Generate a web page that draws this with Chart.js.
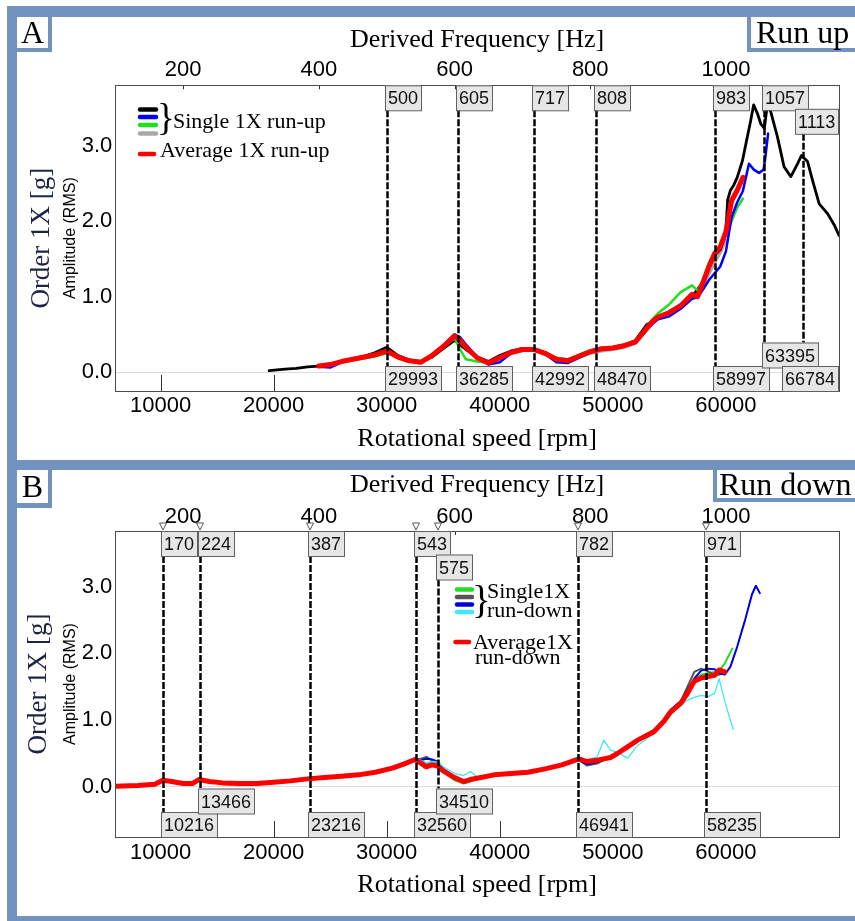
<!DOCTYPE html>
<html>
<head>
<meta charset="utf-8">
<title>Order 1X run-up / run-down</title>
<script src="https://cdn.jsdelivr.net/npm/chart.js@4.4.1/dist/chart.umd.min.js"></script>
<style>
  html, body { margin: 0; padding: 0; background: #fff; }
  #page { position: relative; width: 855px; height: 921px; overflow: hidden; background: #fff; }
  .band { position: absolute; background: #7293bf; }
  .holder { position: absolute; left: 17px; }
  .holder canvas { display: block; }
  .tag { position: absolute; box-sizing: border-box; background: #fff; border: 0 solid #7293bf;
         font-family: "Liberation Serif", "Times New Roman", serif; font-size: 32px; color: #000; white-space: nowrap; }
</style>
</head>
<body>
<div id="page">
  <div class="band" style="left:7px; top:6px; width:848px; height:11px;"></div>
  <div class="band" style="left:7px; top:6px; width:10px; height:915px;"></div>
  <div class="band" style="left:7px; top:460px; width:848px; height:10px;"></div>
  <div class="band" style="left:7px; top:916px; width:848px; height:5px;"></div>

  <div class="holder" style="top:17px;"><canvas id="chartA" width="838" height="443"></canvas></div>
  <div class="holder" style="top:470px;"><canvas id="chartB" width="838" height="446"></canvas></div>

  <div class="tag" style="left:17px; top:17px; width:35px; height:35px; border-right-width:4px; border-bottom-width:4px; line-height:31px; text-align:center;">A</div>
  <div class="tag" style="left:747px; top:17px; width:108px; height:35px; border-left-width:4px; border-bottom-width:4px; line-height:31px; padding-left:5px;">Run up</div>
  <div class="tag" style="left:17px; top:470px; width:35px; height:38px; border-right-width:4px; border-bottom-width:5px; line-height:33px; text-align:center;">B</div>
  <div class="tag" style="left:713px; top:470px; width:142px; height:32px; border-left-width:4px; border-bottom-width:4px; line-height:28px; padding-left:2px;">Run down</div>
</div>

<script>
const SANS = '"Liberation Sans", Arial, sans-serif';
const SERIF = '"Liberation Serif", "Times New Roman", serif';

// axis ticks (rpm below, derived frequency in Hz = rpm / 60 on top)
const rpmTicks = [10000, 20000, 30000, 40000, 50000, 60000];
const hzTicks = [200, 400, 600, 800, 1000];
const ampTicks = [0, 1, 2, 3];

// ---------- panel A : run up ----------
const rpmA = [24000, 25000, 26000, 27000, 28000, 29000, 30000, 31000, 32000, 33000,
              34000, 35000, 36000, 36500, 37000, 38000, 39000, 40000, 41000, 42000,
              43000, 44000, 45000, 46000, 47000, 48000, 49000, 50000, 51000, 52000,
              53000, 53500, 54000, 55000, 56000, 57000, 57500, 58000, 58500, 59000,
              59500, 60000, 60500, 61000, 61500];
const avgUpA = [0.08, 0.10, 0.14, 0.17, 0.20, 0.23, 0.28, 0.20, 0.15, 0.13,
                0.22, 0.34, 0.48, 0.42, 0.33, 0.19, 0.12, 0.19, 0.26, 0.30,
                0.30, 0.25, 0.17, 0.15, 0.21, 0.27, 0.31, 0.32, 0.35, 0.40,
                0.58, 0.67, 0.73, 0.79, 0.88, 1.03, 1.00, 1.20, 1.40, 1.57,
                1.66, 1.86, 2.27, 2.41, 2.58];
const rpmBlueTailA = [61840, 62040, 62490, 62930, 63320, 63460, 63730];
const blueUpA = [0.07, 0.06, 0.13, 0.17, 0.20, 0.24, 0.29, 0.21, 0.15, 0.13,
                 0.22, 0.35, 0.50, 0.46, 0.37, 0.20, 0.10, 0.13, 0.25, 0.29,
                 0.30, 0.24, 0.13, 0.12, 0.19, 0.26, 0.30, 0.32, 0.35, 0.39,
                 0.56, 0.64, 0.70, 0.74, 0.84, 0.97, 0.99, 1.10, 1.22, 1.31,
                 1.40, 1.60, 2.05, 2.25, 2.40,
                 2.63, 2.76, 2.68, 2.64, 2.68, 2.81, 3.16];
const greenUpA = [0.07, 0.11, 0.14, 0.16, 0.18, 0.21, 0.25, 0.21, 0.16, 0.14,
                  0.21, 0.33, 0.45, 0.30, 0.17, 0.14, 0.12, 0.20, 0.25, 0.28,
                  0.30, 0.26, 0.19, 0.17, 0.23, 0.29, 0.31, 0.33, 0.36, 0.41,
                  0.60, 0.70, 0.78, 0.90, 1.06, 1.15, 1.08, 1.22, 1.45, 1.58,
                  1.66, 1.80, 2.00, 2.18, 2.30];
const greyUpA = [0.08, 0.10, 0.14, 0.17, 0.20, 0.24, 0.30, 0.22, 0.16, 0.14,
                 0.20, 0.32, 0.43, 0.38, 0.31, 0.20, 0.14, 0.20, 0.27, 0.30,
                 0.30, 0.25, 0.17, 0.15, 0.20, 0.25, 0.28, 0.30, 0.33, 0.38,
                 0.58, 0.66, 0.71, 0.78, 0.87, 0.98, 1.02, 1.15, 1.30, 1.45,
                 1.58, 1.75];
const rpmBlackA = [19600, 21000, 22000, 23000, 24000, 25000, 26000, 27000, 28000, 29000,
                   30000, 31000, 32000, 33000, 34000, 35000, 36000, 36500, 37000, 38000,
                   39000, 40000, 41000, 42000, 43000, 44000, 45000, 46000, 47000, 48000,
                   49000, 50000, 51000, 52000, 53000, 54000, 55000, 56000, 57000, 58000,
                   58500, 59000, 59500, 60000, 60150, 60400, 60700, 61000, 61460, 61870,
                   62150, 62450, 62780, 63080, 63400, 63670, 63960, 64550, 65140, 65740,
                   66330, 66680, 67220, 67660, 68250, 68990, 69580, 70000];
const blackUpA = [0.02, 0.04, 0.05, 0.07, 0.08, 0.09, 0.14, 0.18, 0.21, 0.26,
                  0.33, 0.22, 0.16, 0.14, 0.20, 0.31, 0.42, 0.36, 0.30, 0.20,
                  0.14, 0.22, 0.28, 0.31, 0.31, 0.26, 0.18, 0.16, 0.22, 0.28,
                  0.31, 0.33, 0.36, 0.42, 0.63, 0.72, 0.80, 0.89, 1.00, 1.20,
                  1.42, 1.55, 1.62, 1.88, 2.28, 2.41, 2.48, 2.58, 2.80, 3.10,
                  3.30, 3.54, 3.43, 3.29, 3.23, 3.55, 3.45, 3.12, 2.72, 2.59,
                  2.76, 2.87, 2.79, 2.54, 2.23, 2.10, 1.95, 1.81];
const markRpmA = [29993, 36285, 42992, 48470, 58997, 63395, 66784];
const markHzA = ['500', '605', '717', '808', '983', '1057', '1113'];
const markTopRowA = [0, 0, 0, 0, 0, 0, 1];
const markBotRowA = [0, 0, 0, 0, 0, 1, 0];

// ---------- panel B : run down ----------
const rpmB = [6000, 8000, 9500, 10200, 11000, 12000, 12800, 13400, 14300, 15500,
              17000, 18500, 20000, 21500, 23000, 24500, 26000, 27500, 29000, 30500,
              31500, 32500, 33000, 33500, 34000, 34500, 35000, 36000, 36800, 37400,
              38000, 39500, 41000, 42500, 44000, 45500, 47000, 47700, 48600, 49200,
              49800, 50400, 51300, 52200, 53600, 54500, 55100, 56000, 56600, 57200,
              57800, 58400, 59000, 59400, 59900];
const avgDownB = [0.01, 0.02, 0.04, 0.10, 0.08, 0.05, 0.05, 0.11, 0.08, 0.06,
                  0.05, 0.05, 0.07, 0.09, 0.12, 0.14, 0.16, 0.18, 0.22, 0.28,
                  0.34, 0.41, 0.36, 0.30, 0.33, 0.31, 0.24, 0.14, 0.08, 0.11,
                  0.13, 0.18, 0.20, 0.22, 0.27, 0.33, 0.42, 0.38, 0.40, 0.42,
                  0.44, 0.50, 0.60, 0.70, 0.82, 0.98, 1.12, 1.25, 1.40, 1.58,
                  1.63, 1.65, 1.67, 1.75, 1.72];
const rpmBlueTailB = [60400, 61000, 61700, 62300, 62650, 63000];
const blueDownB = [0.01, 0.02, 0.04, 0.09, 0.08, 0.05, 0.05, 0.10, 0.08, 0.06,
                   0.05, 0.06, 0.07, 0.09, 0.12, 0.14, 0.16, 0.18, 0.22, 0.28,
                   0.34, 0.40, 0.40, 0.42, 0.41, 0.38, 0.27, 0.15, 0.09, 0.11,
                   0.13, 0.17, 0.20, 0.22, 0.27, 0.33, 0.40, 0.34, 0.37, 0.41,
                   0.44, 0.50, 0.60, 0.71, 0.83, 0.99, 1.15, 1.28, 1.45, 1.62,
                   1.74, 1.77, 1.76, 1.70, 1.68,
                   1.80, 2.10, 2.50, 2.88, 3.01, 2.90];
const rpmGreenTailB = [60570];
const greenDownB = [0.01, 0.02, 0.04, 0.10, 0.08, 0.05, 0.05, 0.11, 0.08, 0.06,
                    0.05, 0.05, 0.07, 0.09, 0.12, 0.14, 0.16, 0.18, 0.22, 0.28,
                    0.34, 0.40, 0.37, 0.34, 0.37, 0.34, 0.22, 0.10, 0.05, 0.08,
                    0.12, 0.18, 0.21, 0.23, 0.27, 0.33, 0.41, 0.37, 0.39, 0.42,
                    0.44, 0.50, 0.60, 0.70, 0.82, 0.98, 1.12, 1.26, 1.42, 1.60,
                    1.68, 1.70, 1.72, 1.74, 1.85,
                    2.07];
const greyDownB = [0.01, 0.02, 0.04, 0.10, 0.08, 0.05, 0.05, 0.11, 0.08, 0.06,
                   0.05, 0.05, 0.07, 0.09, 0.12, 0.14, 0.16, 0.18, 0.22, 0.28,
                   0.34, 0.41, 0.42, 0.45, 0.40, 0.36, 0.26, 0.14, 0.08, 0.11,
                   0.13, 0.17, 0.20, 0.22, 0.26, 0.32, 0.40, 0.32, 0.35, 0.40,
                   0.43, 0.50, 0.61, 0.72, 0.85, 1.00, 1.15, 1.28, 1.50, 1.72,
                   1.77, 1.73, 1.68, 1.68, 1.70];
const rpmCyanTailB = [60300, 60660];
const cyanDownB = [0.01, 0.02, 0.03, 0.08, 0.07, 0.04, 0.04, 0.09, 0.07, 0.05,
                   0.04, 0.05, 0.07, 0.09, 0.12, 0.14, 0.16, 0.18, 0.22, 0.29,
                   0.35, 0.42, 0.40, 0.36, 0.38, 0.37, 0.30, 0.20, 0.17, 0.23,
                   0.15, 0.20, 0.22, 0.24, 0.28, 0.34, 0.41, 0.40, 0.45, 0.70,
                   0.55, 0.52, 0.43, 0.62, 0.80, 0.96, 1.08, 1.22, 1.30, 1.34,
                   1.37, 1.35, 1.40, 1.62, 1.28,
                   1.05, 0.86];
const markRpmB = [10216, 13466, 23216, 32560, 34510, 46941, 58235];
const markHzB = ['170', '224', '387', '543', '575', '782', '971'];
const markTopRowB = [0, 0, 0, 0, 1, 0, 0];
const markBotRowB = [0, 1, 0, 0, 1, 0, 0];

// ---------- helpers ----------
function pts(xs, ys) {
  return ys.map((v, i) => ({ x: xs[i], y: v }));
}

function series(label, xs, ys, color, width) {
  return { label: label, data: pts(xs, ys), borderColor: color, backgroundColor: color,
           borderWidth: width, pointRadius: 0, fill: false };
}

const BOX_H = 25;
const ROW_STEP = 23.5;

// grey value box, kept inside the plot on the right side
function labelBox(ctx, text, left, top, maxRight) {
  ctx.font = '18px ' + SANS;
  const w = Math.round(ctx.measureText(text).width + 6);
  left = Math.min(left, Math.floor(maxRight - w - 1));
  ctx.fillStyle = '#e6e6e6';
  ctx.fillRect(left, top, w, BOX_H);
  ctx.strokeStyle = '#606060';
  ctx.lineWidth = 1;
  ctx.strokeRect(left + 0.5, top + 0.5, w, BOX_H);
  ctx.fillStyle = '#111';
  ctx.textAlign = 'left';
  ctx.textBaseline = 'alphabetic';
  ctx.fillText(text, left + 3, top + 19);
}

function seg(ctx, x1, y1, x2, y2) {
  ctx.beginPath();
  ctx.moveTo(x1, y1);
  ctx.lineTo(x2, y2);
  ctx.stroke();
}

function stub(ctx, color, x1, x2, y) {
  ctx.strokeStyle = color;
  ctx.lineWidth = 4.5;
  ctx.lineCap = 'round';
  seg(ctx, x1, y, x2, y);
  ctx.lineCap = 'butt';
}

function serifText(ctx, text, x, y, size) {
  ctx.font = size + 'px ' + SERIF;
  ctx.fillStyle = '#000';
  ctx.textAlign = 'left';
  ctx.textBaseline = 'alphabetic';
  ctx.fillText(text, x, y);
}

// frame, inner ticks, cursor lines with value boxes, legend
function makeDecor(conf) {
  return {
    id: 'decor' + conf.name,
    afterDatasetsDraw(chart) {
      const { ctx, chartArea: a } = chart;
      const sx = chart.scales.x;
      const sTop = chart.scales.x2;
      ctx.save();

      // inner tick marks
      ctx.strokeStyle = '#333';
      ctx.lineWidth = 1;
      rpmTicks.forEach(v => {
        const px = Math.round(sx.getPixelForValue(v)) + 0.5;
        seg(ctx, px, a.bottom, px, a.bottom - 16);
      });
      hzTicks.forEach(v => {
        const px = Math.round(sTop.getPixelForValue(v)) + 0.5;
        seg(ctx, px, a.top, px, a.top + 4);
      });

      // plot frame
      ctx.strokeStyle = '#4a4a4a';
      ctx.strokeRect(Math.round(a.left) + 0.5, Math.round(a.top) + 0.5,
                     Math.round(a.right - a.left), Math.round(a.bottom - a.top));

      // cursor lines
      conf.rpm.forEach((r, i) => {
        const px = Math.round(sx.getPixelForValue(r));
        const tTop = a.top + conf.topRow[i] * ROW_STEP;
        const bTop = a.bottom - BOX_H - conf.botRow[i] * ROW_STEP;
        ctx.strokeStyle = '#000';
        ctx.lineWidth = 2.5;
        ctx.setLineDash([7, 2]);
        seg(ctx, px + 0.5, tTop + BOX_H, px + 0.5, bTop);
        ctx.setLineDash([]);
        if (conf.arrows) {
          ctx.beginPath();
          ctx.moveTo(px - 3.5, a.top - 8);
          ctx.lineTo(px + 3.5, a.top - 8);
          ctx.lineTo(px, a.top - 1);
          ctx.closePath();
          ctx.fillStyle = '#fff';
          ctx.fill();
          ctx.strokeStyle = '#555';
          ctx.lineWidth = 1;
          ctx.stroke();
        }
      });
      conf.rpm.forEach((r, i) => {
        const px = Math.round(sx.getPixelForValue(r));
        labelBox(ctx, conf.hz[i], px - 2, a.top + conf.topRow[i] * ROW_STEP, a.right);
        labelBox(ctx, String(r), px - 2, a.bottom - BOX_H - conf.botRow[i] * ROW_STEP, a.right);
      });

      // secondary y label
      ctx.save();
      ctx.translate(54, (a.top + a.bottom) / 2);
      ctx.rotate(-Math.PI / 2);
      ctx.font = '16px ' + SANS;
      ctx.fillStyle = '#000';
      ctx.textAlign = 'center';
      ctx.textBaseline = 'middle';
      ctx.fillText('Amplitude (RMS)', 0, 0);
      ctx.restore();

      conf.legend(ctx);
      ctx.restore();
    }
  };
}

function legendA(ctx) {
  stub(ctx, '#000000', 123, 139, 92.5);
  stub(ctx, '#0000ff', 123, 139, 100);
  stub(ctx, '#1fe01f', 123, 139, 108);
  stub(ctx, '#a8a8a8', 123, 139, 116.5);
  serifText(ctx, '}', 140, 113, 37);
  serifText(ctx, 'Single 1X run-up', 156, 110.5, 22);
  stub(ctx, '#ff0000', 123, 137, 137);
  serifText(ctx, 'Average 1X run-up', 143, 140, 22);
}

function legendB(ctx) {
  stub(ctx, '#22dd22', 440, 455, 119.5);
  stub(ctx, '#555555', 440, 455, 127);
  stub(ctx, '#0000dd', 440, 455, 134.5);
  stub(ctx, '#3fe8f2', 440, 455, 142);
  serifText(ctx, '}', 455, 143, 39);
  serifText(ctx, 'Single1X', 470, 127.5, 22);
  serifText(ctx, 'run-down', 470, 147, 22);
  stub(ctx, '#ff0000', 438.5, 452, 172);
  serifText(ctx, 'Average1X', 456, 179, 22);
  serifText(ctx, 'run-down', 458, 194, 22);
}

function buildOptions(yMin, yMax, d) {
  return {
    responsive: false,
    animation: false,
    events: [],
    layout: { padding: { left: 0, top: 0, right: 16, bottom: 0 } },
    plugins: { legend: { display: false }, tooltip: { enabled: false } },
    elements: { point: { radius: 0 }, line: { tension: 0, borderJoinStyle: 'round', borderCapStyle: 'round' } },
    scales: {
      x: {
        type: 'linear', position: 'bottom', min: 6000, max: 70000,
        afterBuildTicks: s => { s.ticks = rpmTicks.map(v => ({ value: v })); },
        afterFit: s => { s.height = d.bottom; },
        grid: { display: false, drawTicks: false },
        border: { display: false },
        ticks: { autoSkip: false, maxRotation: 0, padding: d.xPad, color: '#000',
                 font: { family: SANS, size: 22 }, callback: v => String(v) },
        title: { display: true, text: 'Rotational speed [rpm]', color: '#000',
                 font: { family: SERIF, size: 26 }, padding: { top: 0, bottom: d.xTitle } }
      },
      x2: {
        type: 'linear', position: 'top', min: 100, max: 70000 / 60,
        afterBuildTicks: s => { s.ticks = hzTicks.map(v => ({ value: v })); },
        afterFit: s => { s.height = d.top; },
        grid: { display: false, drawTicks: false },
        border: { display: false },
        ticks: { autoSkip: false, maxRotation: 0, padding: d.x2Pad, color: '#000',
                 font: { family: SANS, size: 22 }, callback: v => String(v) },
        title: { display: true, text: 'Derived Frequency [Hz]', color: '#000',
                 font: { family: SERIF, size: 26 }, padding: { top: d.x2Title, bottom: 0 } }
      },
      y: {
        type: 'linear', position: 'left', min: yMin, max: yMax,
        afterBuildTicks: s => { s.ticks = ampTicks.map(v => ({ value: v })); },
        afterFit: s => { s.width = 98.3; },
        grid: { drawTicks: false, lineWidth: 1,
                color: c => (c.tick && c.tick.value === 0) ? '#dcdcdc' : 'rgba(0,0,0,0)' },
        border: { display: false },
        ticks: { padding: 3, color: '#000', font: { family: SANS, size: 22 },
                 callback: v => Number(v).toFixed(1) },
        title: { display: true, text: 'Order 1X [g]', color: '#1c2541',
                 font: { family: SERIF, size: 27 }, padding: { top: d.yTitle, bottom: 0 } }
      }
    }
  };
}

// ---------- chart A ----------
new Chart(document.getElementById('chartA'), {
  type: 'line',
  data: {
    datasets: [
      series('Average 1X run-up', rpmA, avgUpA, '#ff0000', 5),
      series('Single 1X run-up (blue)', rpmA.concat(rpmBlueTailA), blueUpA, '#0000ff', 2.5),
      series('Single 1X run-up (green)', rpmA, greenUpA, '#1fe01f', 2.5),
      series('Single 1X run-up (black)', rpmBlackA, blackUpA, '#000000', 2.8),
      series('Single 1X run-up (grey)', rpmA, greyUpA, '#a8a8a8', 3)
    ]
  },
  options: buildOptions(-0.25, 3.8, { top: 68.3, bottom: 69, xPad: 1.6, x2Pad: 2.1, xTitle: 5.7, x2Title: 7.9, yTitle: 8.5 }),
  plugins: [makeDecor({ name: 'A', rpm: markRpmA, hz: markHzA, topRow: markTopRowA, botRow: markBotRowA,
                        arrows: false, legend: legendA })]
});

// ---------- chart B ----------
new Chart(document.getElementById('chartB'), {
  type: 'line',
  data: {
    datasets: [
      series('Average1X run-down', rpmB, avgDownB, '#ff0000', 5),
      series('Single1X run-down (cyan)', rpmB.concat(rpmCyanTailB), cyanDownB, '#3fe8f2', 1.3),
      series('Single1X run-down (blue)', rpmB.concat(rpmBlueTailB), blueDownB, '#0000dd', 2),
      series('Single1X run-down (grey)', rpmB, greyDownB, '#555555', 2),
      series('Single1X run-down (green)', rpmB.concat(rpmGreenTailB), greenDownB, '#22dd22', 2)
    ]
  },
  options: buildOptions(-0.75, 3.83, { top: 61, bottom: 79, xPad: 2.6, x2Pad: 1.1, xTitle: 15.4, x2Title: 0, yTitle: 6 }),
  plugins: [makeDecor({ name: 'B', rpm: markRpmB, hz: markHzB, topRow: markTopRowB, botRow: markBotRowB,
                        arrows: true, legend: legendB })]
});
</script>
</body>
</html>
